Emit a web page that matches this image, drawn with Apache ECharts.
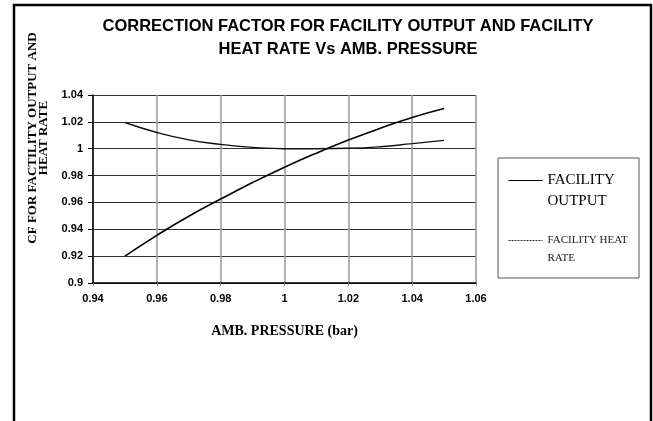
<!DOCTYPE html>
<html>
<head>
<meta charset="utf-8">
<script src="https://cdn.jsdelivr.net/npm/echarts@6/dist/echarts.min.js"></script>
<style>
html,body{margin:0;padding:0;background:#fff;}
#c{width:653px;height:421px;}
</style>
</head>
<body>
<div id="c"></div>
<script>
const pressure = [0.95, 0.96, 0.97, 0.98, 0.99, 1.00, 1.01, 1.02, 1.03, 1.04, 1.05];
const facilityOutput = [0.920, 0.9355, 0.9497, 0.9625, 0.9748, 0.9862, 0.9967, 1.0064, 1.0152, 1.0233, 1.0300];
const facilityHeatRate = [1.0195, 1.0121, 1.0066, 1.0032, 1.0010, 1.0000, 1.0000, 1.0003, 1.0015, 1.0038, 1.0062];
const seriesNames = ['FACILITY OUTPUT', 'FACILITY HEAT RATE'];
const titleText = 'CORRECTION FACTOR FOR FACILITY OUTPUT AND FACILITY\nHEAT RATE Vs AMB. PRESSURE';
const xName = 'AMB. PRESSURE (bar)';
const yName = 'CF FOR FACTILITY OUTPUT AND\nHEAT RATE';

const chart = echarts.init(document.getElementById('c'), null, {renderer: 'canvas'});
const fmt = v => String(parseFloat(v.toFixed(2)));
const serif = '"Liberation Serif", "DejaVu Serif", serif';
const sans = '"Liberation Sans", Arial, sans-serif';

chart.setOption({
  animation: false,
  backgroundColor: '#fff',
  title: {
    text: titleText,
    left: 343, top: 10, textAlign: 'center',
    textStyle: {fontFamily: sans, fontWeight: 'bold', fontSize: 16.5, lineHeight: 23, color: '#000'}
  },
  grid: {left: 93, right: 177, top: 95, bottom: 138, containLabel: false},
  legend: {
    orient: 'vertical', left: 508, top: 152, padding: 0, itemGap: 8,
    itemWidth: 34, itemHeight: 10,
    itemStyle: {opacity: 0},
    data: [
      {name: seriesNames[0], lineStyle: {width: 1, color: '#000'}},
      {name: seriesNames[1], lineStyle: {width: 1, color: '#333', type: [2, 1]}}
    ],
    formatter: function (name) {
      if (name === seriesNames[0]) return '{a|}\n{a|FACILITY}\n{a|OUTPUT}';
      return '{b|}\n{b|FACILITY HEAT}\n{b|RATE}';
    },
    textStyle: {
      rich: {
        a: {fontFamily: serif, fontSize: 15, lineHeight: 21, color: '#000'},
        b: {fontFamily: serif, fontSize: 11, lineHeight: 18, color: '#222'}
      }
    }
  },
  xAxis: {
    type: 'value', min: 0.94, max: 1.06, interval: 0.02,
    name: xName, nameLocation: 'middle', nameGap: 41,
    nameTextStyle: {fontFamily: serif, fontWeight: 'bold', fontSize: 14, color: '#000'},
    axisLine: {show: true, lineStyle: {color: '#000', width: 1.5}},
    axisTick: {show: true, length: 3, lineStyle: {color: '#888'}},
    axisLabel: {formatter: fmt, fontFamily: sans, fontWeight: 'bold', fontSize: 11, color: '#000', margin: 10},
    splitLine: {show: true, lineStyle: {color: '#999', width: 1.5}}
  },
  yAxis: {
    type: 'value', min: 0.9, max: 1.04, interval: 0.02,
    axisLine: {show: true, lineStyle: {color: '#000', width: 1.5}},
    axisTick: {show: true, length: 5, lineStyle: {color: '#000'}},
    axisLabel: {formatter: fmt, fontFamily: sans, fontWeight: 'bold', fontSize: 11, color: '#000', margin: 10},
    splitLine: {show: true, lineStyle: {color: '#333', width: 1}}
  },
  graphic: [
    {type: 'polyline', shape: {points: [[14, 421], [14, 5], [651, 5], [651, 421]]},
     style: {stroke: '#000', lineWidth: 2.5, fill: null}, silent: true, z: 100},
    {type: 'rect', shape: {x: 498, y: 158, width: 141, height: 120},
     style: {stroke: '#555', lineWidth: 1, fill: null}, silent: true, z: 50},
    {type: 'text', x: 38, y: 138, rotation: Math.PI / 2,
     style: {text: yName, fontFamily: serif, fontWeight: 'bold', fontSize: 13, lineHeight: 11,
             fill: '#000', align: 'center', verticalAlign: 'middle'}, silent: true}
  ],
  series: [
    {name: seriesNames[0], type: 'line', smooth: true, symbol: 'none',
     data: pressure.map((p, i) => [p, facilityOutput[i]]),
     itemStyle: {color: '#000'},
     lineStyle: {color: '#000', width: 1.6}},
    {name: seriesNames[1], type: 'line', smooth: true, symbol: 'none',
     data: pressure.map((p, i) => [p, facilityHeatRate[i]]),
     itemStyle: {color: '#111'},
     lineStyle: {color: '#111', width: 1.4}}
  ]
});
</script>
</body>
</html>
